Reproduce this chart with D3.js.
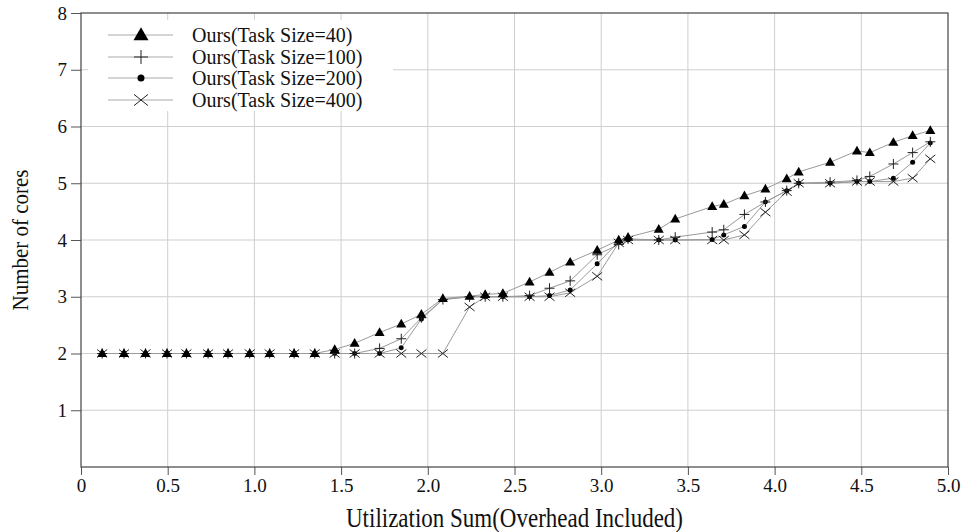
<!DOCTYPE html>
<html><head><meta charset="utf-8">
<script src="https://cdn.jsdelivr.net/npm/d3@7"></script>
<style>
body{margin:0;background:#fff}
svg text{font-family:"Liberation Serif","Tinos","Times New Roman","DejaVu Serif",serif;fill:#111}
</style>
</head><body>
<svg id="chart" width="965" height="532"></svg>
<script>
// ---- data ----
const utilization = [0.122,0.248,0.372,0.496,0.608,0.733,0.848,0.973,1.088,1.229,1.348,1.463,1.578,1.722,1.847,1.963,2.087,2.241,2.331,2.433,2.587,2.702,2.821,2.977,3.101,3.155,3.332,3.427,3.640,3.707,3.826,3.947,4.070,4.139,4.320,4.475,4.549,4.685,4.796,4.898];
const coresTask40  = [2,2,2,2,2,2,2,2,2,2,2,2.07,2.18,2.37,2.52,2.69,2.97,3.01,3.04,3.06,3.26,3.43,3.61,3.82,4.00,4.05,4.19,4.37,4.59,4.63,4.78,4.90,5.08,5.20,5.37,5.57,5.54,5.72,5.84,5.93];
const coresTask100 = [2,2,2,2,2,2,2,2,2,2,2,2,2,2.09,2.26,2.63,2.95,3.00,3.00,3.00,3.02,3.15,3.28,3.74,3.92,4.02,4.00,4.05,4.14,4.18,4.45,4.67,4.87,5.00,5.02,5.05,5.12,5.34,5.54,5.73];
const coresTask200 = [2,2,2,2,2,2,2,2,2,2,2,2,2,2,2.10,2.61,2.95,3.00,3.00,3.00,3.00,3.02,3.12,3.58,3.97,4.00,4.00,4.00,4.01,4.09,4.24,4.67,4.87,5.00,5.00,5.03,5.03,5.09,5.37,5.71];
const coresTask400 = [2,2,2,2,2,2,2,2,2,2,2,2,2,2,2,2,2,2.82,3.00,3.00,3.00,3.00,3.07,3.36,3.95,4.00,4.00,4.00,4.00,4.00,4.09,4.49,4.85,5.00,5.00,5.03,5.03,5.03,5.09,5.43];
const seriesNames = ["Ours(Task Size=40)","Ours(Task Size=100)","Ours(Task Size=200)","Ours(Task Size=400)"];
const seriesMarkers = ["triangle","plus","dot","times"];
const xTickValues = [0,0.5,1.0,1.5,2.0,2.5,3.0,3.5,4.0,4.5,5.0];
const xTickLabels = ["0","0.5","1.0","1.5","2.0","2.5","3.0","3.5","4.0","4.5","5.0"];
const yTickValues = [1,2,3,4,5,6,7,8];
const xTitle = "Utilization Sum(Overhead Included)";
const yTitle = "Number of cores";

// ---- layout ----
const FONT = '"Liberation Serif","Tinos","Times New Roman","DejaVu Serif",serif';
const svg = d3.select("#chart");
const L = 81, R = 948, T = 13, B = 467;
const x = d3.scaleLinear().domain([0,5]).range([L,R]);
const y = d3.scaleLinear().domain([0,8]).range([B,T]);

// gridlines
const grid = svg.append("g").attr("stroke","#cfcfcf").attr("stroke-width",1);
grid.selectAll(".gx").data(xTickValues.filter(v=>v>0&&v<5)).join("line")
  .attr("x1",d=>x(d)).attr("x2",d=>x(d)).attr("y1",T).attr("y2",B);
grid.selectAll(".gy").data(yTickValues.filter(v=>v<8)).join("line")
  .attr("y1",d=>y(d)).attr("y2",d=>y(d)).attr("x1",L).attr("x2",R);

// series
const allSeries = [coresTask40,coresTask100,coresTask200,coresTask400].map((vals,i)=>({
  name: seriesNames[i], marker: seriesMarkers[i],
  pts: vals.map((v,j)=>({u: utilization[j], c: v}))
}));

function markerPath(kind, s){
  if(kind==="triangle"){
    const h = s*0.87;
    return `M0,${-h*0.6}L${s/2},${h*0.4}L${-s/2},${h*0.4}Z`;
  }
  if(kind==="plus") return `M${-s/2},0L${s/2},0M0,${-s/2}L0,${s/2}`;
  if(kind==="times") return `M${-s/2},${-s*0.4}L${s/2},${s*0.4}M${-s/2},${s*0.4}L${s/2},${-s*0.4}`;
  return d3.symbol(d3.symbolCircle, s*s*0.785)();
}
function styleMarker(sel, kind){
  if(kind==="triangle"||kind==="dot") sel.attr("fill","#000").attr("stroke","none");
  else sel.attr("fill","none").attr("stroke","#222").attr("stroke-width",1);
}
const line = d3.line().x(d=>x(d.u)).y(d=>y(d.c));
const drawOrder = [3,2,1,0];
const lineG = svg.append("g");
drawOrder.forEach(i=>{
  lineG.append("path").datum(allSeries[i].pts).attr("d",line)
    .attr("fill","none").attr("stroke","#9a9a9a").attr("stroke-width",1);
});
const markG = svg.append("g");
const markerSize = {triangle:10, plus:10, dot:5, times:10};
drawOrder.forEach(i=>{
  const s = allSeries[i];
  const sel = markG.append("g").selectAll("path").data(s.pts).join("path")
    .attr("transform",d=>`translate(${x(d.u)},${y(d.c)})`)
    .attr("d",markerPath(s.marker, markerSize[s.marker]));
  styleMarker(sel, s.marker);
});

// legend
const lg = svg.append("g");
lg.append("rect").attr("x",88).attr("y",20).attr("width",305).attr("height",91).attr("fill","#fff");
const legendRows = [35,57,78,100];
const legendSize = {triangle:15, plus:14, dot:7, times:14};
allSeries.forEach((s,i)=>{
  const g = lg.append("g").attr("transform",`translate(0,${legendRows[i]})`);
  g.append("line").attr("x1",108).attr("x2",173).attr("y1",0).attr("y2",0)
    .attr("stroke","#aaa").attr("stroke-width",1);
  const m = g.append("path").attr("transform","translate(141,0)")
    .attr("d",markerPath(s.marker, legendSize[s.marker]));
  styleMarker(m, s.marker);
  g.append("text").attr("x",192).attr("y",0).attr("dy","0.35em")
    .attr("font-family",FONT).attr("font-size",20).text(s.name);
});

// axes
const xAxis = d3.axisBottom(x).tickValues(xTickValues).tickFormat((d,i)=>xTickLabels[i])
  .tickSize(8).tickSizeOuter(0).tickPadding(4);
const yAxis = d3.axisLeft(y).tickValues(yTickValues).tickFormat(d3.format("d"))
  .tickSize(10).tickSizeOuter(0).tickPadding(4);
const gx = svg.append("g").attr("transform",`translate(0,${B})`).call(xAxis);
const gy = svg.append("g").attr("transform",`translate(${L},0)`).call(yAxis);
[gx,gy].forEach(g=>{
  g.attr("font-family",FONT).attr("font-size",19);
  g.select(".domain").remove();
  g.selectAll("line").attr("stroke","#555");
  g.selectAll("text").attr("fill","#111");
});
// frame
svg.append("rect").attr("x",L).attr("y",T).attr("width",R-L).attr("height",B-T)
  .attr("fill","none").attr("stroke","#444").attr("stroke-width",1.2);

// titles
svg.append("text").attr("transform",`translate(${(L+R)/2},518) scale(1,1.15)`)
  .attr("dy","0.35em").attr("text-anchor","middle")
  .attr("font-family",FONT).attr("font-size",23).text(xTitle);
svg.append("text").attr("transform",`translate(20,${(T+B)/2}) rotate(-90) scale(1,1.12)`)
  .attr("text-anchor","middle").attr("dy","0.35em")
  .attr("font-family",FONT).attr("font-size",21).text(yTitle);
</script>
</body></html>
